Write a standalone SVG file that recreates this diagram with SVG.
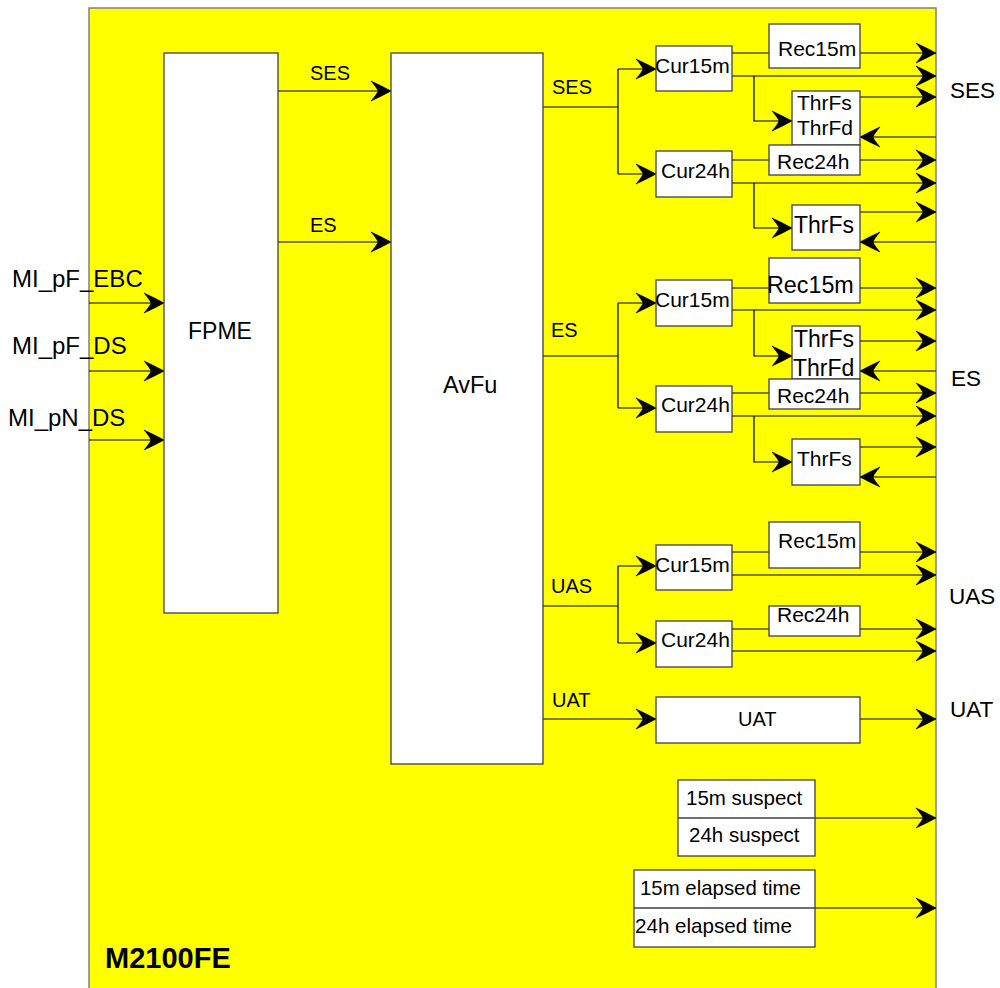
<svg xmlns="http://www.w3.org/2000/svg" width="1000" height="988" viewBox="0 0 1000 988">
<style>
text{font-family:"Liberation Sans",Arial,sans-serif;fill:#000}
.box{fill:#fff;stroke:#404040;stroke-width:1.3}
.ln{fill:none;stroke:#000;stroke-width:1.2}
.a{marker-end:url(#ah)}
.s20{font-size:20px}.s21{font-size:21px}.s23{font-size:23px}.s22{font-size:22.5px}.s24{font-size:24px}
</style>
<defs>
<marker id="ah" markerUnits="userSpaceOnUse" viewBox="-21 -11 22 22" refX="0" refY="0" markerWidth="22" markerHeight="22" orient="auto">
<path d="M0,0 Q-9,-5 -20,-10 Q-14,-3 -13,0 Q-14,3 -20,10 Q-9,5 0,0 Z" fill="#000" stroke="#000" stroke-width="0.6"/>
</marker>
</defs>
<rect id="frame" x="89" y="8" width="847" height="990" fill="#ffff00" stroke="#808080" stroke-width="1.5"/>
<g id="connectors">
<path class="ln a" d="M89,303H164"/>
<path class="ln a" d="M89,371H164"/>
<path class="ln a" d="M89,440H164"/>
<path class="ln a" d="M278,91H391"/>
<path class="ln a" d="M278,242H391"/>
<!-- SES -->
<path class="ln" d="M543,107H618M618,69V174"/>
<path class="ln a" d="M618,69H656"/>
<path class="ln a" d="M618,174H656"/>
<path class="ln a" d="M732,53H936"/>
<path class="ln a" d="M732,76H936"/>
<path class="ln a" d="M754,76V121H792"/>
<path class="ln a" d="M860,97H936"/>
<path class="ln a" d="M936,137H860"/>
<path class="ln a" d="M732,160H936"/>
<path class="ln a" d="M732,183H936"/>
<path class="ln a" d="M754,183V228H792"/>
<path class="ln a" d="M860,212H936"/>
<path class="ln a" d="M936,242H860"/>
<!-- ES -->
<path class="ln" d="M543,356H618M618,303V408"/>
<path class="ln a" d="M618,303H656"/>
<path class="ln a" d="M618,408H656"/>
<path class="ln a" d="M732,288H936"/>
<path class="ln a" d="M732,310H936"/>
<path class="ln a" d="M754,310V356H792"/>
<path class="ln a" d="M860,341H936"/>
<path class="ln a" d="M936,371H860"/>
<path class="ln a" d="M732,393H936"/>
<path class="ln a" d="M732,416H936"/>
<path class="ln a" d="M754,416V462H792"/>
<path class="ln a" d="M860,447H936"/>
<path class="ln a" d="M936,477H860"/>
<!-- UAS -->
<path class="ln" d="M543,606H618M618,566V643"/>
<path class="ln a" d="M618,566H656"/>
<path class="ln a" d="M618,643H656"/>
<path class="ln a" d="M732,552H936"/>
<path class="ln a" d="M732,575H936"/>
<path class="ln a" d="M732,629H936"/>
<path class="ln a" d="M732,651H936"/>
<!-- UAT -->
<path class="ln a" d="M543,719H656"/>
<path class="ln a" d="M860,719H936"/>
<path class="ln a" d="M815,818H936"/>
<path class="ln a" d="M815,908H936"/>
</g>
<g id="labels">
<text class="s20" x="310" y="80">SES</text>
<text class="s20" x="310" y="232">ES</text>
<text class="s24" x="12" y="287">MI_pF_EBC</text>
<text class="s24" x="12" y="354">MI_pF_DS</text>
<text class="s24" x="8" y="426">MI_pN_DS</text>
<text class="s20" x="552" y="94">SES</text>
<text class="s20" x="551" y="337">ES</text>
<text class="s20" x="551" y="593">UAS</text>
<text class="s20" x="552" y="707">UAT</text>
<text class="s22" x="950" y="98">SES</text>
<text class="s22" x="951" y="386">ES</text>
<text class="s22" x="949" y="604">UAS</text>
<text class="s22" x="950" y="717">UAT</text>
<text x="105" y="968" style="font-size:29px;font-weight:bold">M2100FE</text>
</g>
<g id="FPME"><rect class="box" x="164" y="53" width="114" height="560"/><text class="s23" x="188" y="339">FPME</text></g>
<g id="AvFu"><rect class="box" x="391" y="53" width="152" height="711"/><text x="443" y="393" style="font-size:23.5px">AvFu</text></g>
<!-- SES section -->
<g id="ses-cur15m"><rect class="box" x="656" y="46" width="76" height="45"/><text class="s21" x="655" y="73">Cur15m</text></g>
<g id="ses-rec15m"><rect class="box" x="769" y="24" width="91" height="44"/><text class="s21" x="778" y="56">Rec15m</text></g>
<g id="ses-thr15m"><rect class="box" x="792" y="91" width="68" height="54"/><text class="s21" x="797" y="110">ThrFs</text><text class="s21" x="797" y="135">ThrFd</text></g>
<g id="ses-rec24h"><rect class="box" x="769" y="145" width="91" height="30"/><text class="s21" x="777" y="169">Rec24h</text></g>
<g id="ses-cur24h"><rect class="box" x="656" y="151" width="76" height="46"/><text class="s21" x="661" y="178">Cur24h</text></g>
<g id="ses-thr24h"><rect class="box" x="792" y="205" width="68" height="45"/><text class="s23" x="794" y="233">ThrFs</text></g>
<!-- ES section -->
<g id="es-rec15m"><rect class="box" x="769" y="258" width="91" height="45"/><text x="767" y="293" style="font-size:23.3px">Rec15m</text></g>
<g id="es-cur15m"><rect class="box" x="656" y="280" width="76" height="46"/><text class="s21" x="655" y="307">Cur15m</text></g>
<g id="es-thr15m"><rect class="box" x="792" y="326" width="68" height="53"/><text class="s23" x="794" y="347">ThrFs</text><text class="s23" x="793" y="376">ThrFd</text></g>
<g id="es-rec24h"><rect class="box" x="769" y="379" width="91" height="30"/><text class="s21" x="777" y="403">Rec24h</text></g>
<g id="es-cur24h"><rect class="box" x="656" y="386" width="76" height="46"/><text class="s21" x="661" y="412">Cur24h</text></g>
<g id="es-thr24h"><rect class="box" x="792" y="439" width="68" height="46"/><text class="s21" x="797" y="466">ThrFs</text></g>
<!-- UAS section -->
<g id="uas-rec15m"><rect class="box" x="769" y="522" width="91" height="46"/><text class="s21" x="778" y="548">Rec15m</text></g>
<g id="uas-cur15m"><rect class="box" x="656" y="545" width="76" height="45"/><text class="s21" x="655" y="572">Cur15m</text></g>
<g id="uas-rec24h"><rect class="box" x="769" y="606" width="91" height="30"/><text class="s21" x="777" y="622">Rec24h</text></g>
<g id="uas-cur24h"><rect class="box" x="656" y="621" width="76" height="46"/><text class="s21" x="661" y="647">Cur24h</text></g>
<g id="uat"><rect class="box" x="656" y="697" width="204" height="46"/><text class="s20" x="738" y="726">UAT</text></g>
<g id="suspect"><rect class="box" x="678" y="780" width="137" height="76"/><path d="M678,818H815" stroke="#404040" stroke-width="1.3"/><text x="686" y="805" style="font-size:20.5px">15m suspect</text><text x="689" y="842" style="font-size:20.5px">24h suspect</text></g>
<g id="elapsed"><rect class="box" x="634" y="870" width="181" height="77"/><path d="M634,908H815" stroke="#404040" stroke-width="1.3"/><text x="640" y="895" style="font-size:20.4px">15m elapsed time</text><text x="635" y="933" style="font-size:20.6px">24h elapsed time</text></g>
</svg>
